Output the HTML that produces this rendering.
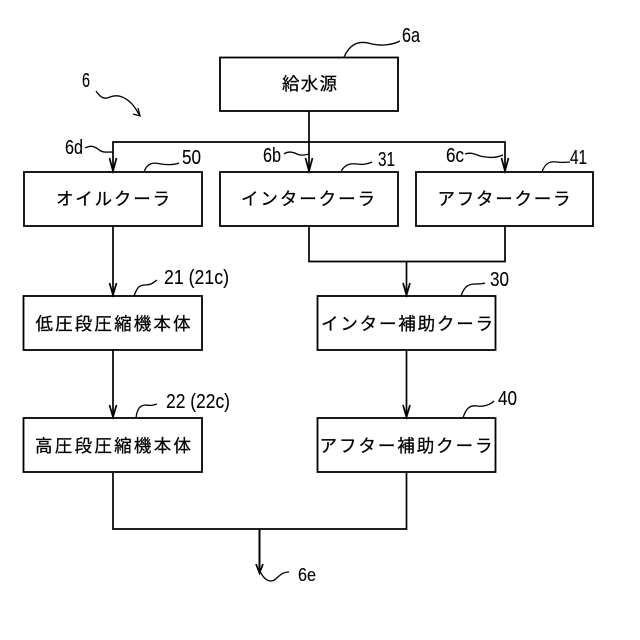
<!DOCTYPE html>
<html><head><meta charset="utf-8"><style>html,body{margin:0;padding:0;background:#fff}svg{display:block}
.j{font-family:"Liberation Sans","Noto Sans CJK JP",sans-serif;font-size:17.500px;font-weight:400;fill:#000;stroke:#000;stroke-width:.25px}
.n{font-family:"Liberation Sans",sans-serif;font-size:20px;fill:#000;stroke:#000;stroke-width:.1px}
</style></head><body>
<svg width="640" height="640" viewBox="0 0 640 640" xmlns="http://www.w3.org/2000/svg">
<g fill="#fff" stroke="#000" stroke-width="1.8">
<rect x="220" y="57.5" width="178" height="53.5"/>
<rect x="24" y="172" width="178" height="54"/>
<rect x="220" y="172" width="178" height="54"/>
<rect x="416" y="172" width="177" height="54"/>
<rect x="23.500" y="296" width="178.500" height="54"/>
<rect x="23.500" y="418" width="178.500" height="54"/>
<rect x="317.500" y="296" width="178" height="54"/>
<rect x="317.500" y="418" width="178" height="54"/>
</g>
<g fill="none" stroke="#000" stroke-width="1.7">
<path d="M309 111V172M113 172V142H505V172"/>
<path d="M309 226V261.500H505V226M406.500 261.500V296"/>
<path d="M113 226V296M113 350V418M406.500 350V418"/>
<path d="M113 472V529H406.500V472"/>
<path d="M259.500 529V573" stroke-width="2"/>
<path d="M109.500 158L113 171L116.500 158M305.500 158L309 171L312.500 158M501.500 158L505 171L508.500 158M403 283L406.500 295L410 283M109.500 283L113 295L116.500 283M109.500 405L113 417L116.500 405M403 405L406.500 417L410 405M256 564L259.500 573L263 564"/>
</g>
<g fill="none" stroke="#000" stroke-width="1.300">
<path d="M96 91C100 97 104 100 110 97C118 94 124 97 130 102C134 105 137 111 140 116"/>
<path d="M133 114L140 116L138 108"/>
<path d="M344 57C350 44 358 41 368 43C378 46 390 46 400 41"/>
<path d="M85 148C90 145 94 146 98 149C102 153 106 152 113 152"/>
<path d="M144 172C147 163 153 162 161 164C168 165 174 165 179 163"/>
<path d="M284 154C288 151 293 152 297 154C301 156 305 155 309 154"/>
<path d="M341 172C344 165 350 163 357 164C362 165 368 164 372 162"/>
<path d="M465 154C470 152 475 154 480 156C488 158 496 158 503 155"/>
<path d="M542 172C545 163 550 161 557 162C562 163 566 162 570 162"/>
<path d="M134 296C137 288 139 285 145 285C151 285 153 283 157 280"/>
<path d="M136 418C137 409 140 405 146 405C151 406 153 405 157 404"/>
<path d="M461 296C464 287 468 284 475 284C479 284 482 284 485 283"/>
<path d="M463 418C466 408 470 405 477 406C483 407 490 405 494 401"/>
<path d="M259 570C263 577 266 581 271 581C277 581 279 572 289 572"/>
</g>
<g text-anchor="middle">
<text x="309.500" y="90" textLength="55" lengthAdjust="spacing" class="j">給水源</text>
<text x="113" y="205" textLength="114" lengthAdjust="spacing" class="j">オイルクーラ</text>
<text x="308" y="205" textLength="134" lengthAdjust="spacing" class="j">インタークーラ</text>
<text x="504" y="205" textLength="133" lengthAdjust="spacing" class="j">アフタークーラ</text>
<text x="113" y="330" textLength="155" lengthAdjust="spacing" class="j">低圧段圧縮機本体</text>
<text x="113" y="452" textLength="156" lengthAdjust="spacing" class="j">高圧段圧縮機本体</text>
<text x="407" y="330" textLength="172" lengthAdjust="spacing" class="j">インター補助クーラ</text>
<text x="406" y="452" textLength="173" lengthAdjust="spacing" class="j">アフター補助クーラ</text>
</g>
<g>
<text x="82" y="87" textLength="8" lengthAdjust="spacingAndGlyphs" class="n">6</text>
<text x="402" y="42" textLength="18" lengthAdjust="spacingAndGlyphs" class="n">6a</text>
<text x="65" y="154" textLength="18" lengthAdjust="spacingAndGlyphs" class="n">6d</text>
<text x="263" y="162" textLength="18" lengthAdjust="spacingAndGlyphs" class="n">6b</text>
<text x="446" y="162" textLength="18" lengthAdjust="spacingAndGlyphs" class="n">6c</text>
<text x="182" y="164" textLength="19" lengthAdjust="spacingAndGlyphs" class="n">50</text>
<text x="378" y="166" textLength="17" lengthAdjust="spacingAndGlyphs" class="n">31</text>
<text x="570" y="164" textLength="17" lengthAdjust="spacingAndGlyphs" class="n">41</text>
<text x="164" y="284" textLength="65" lengthAdjust="spacingAndGlyphs" class="n">21 (21c)</text>
<text x="166" y="408" textLength="64" lengthAdjust="spacingAndGlyphs" class="n">22 (22c)</text>
<text x="490" y="286" textLength="19" lengthAdjust="spacingAndGlyphs" class="n">30</text>
<text x="498" y="405" textLength="19" lengthAdjust="spacingAndGlyphs" class="n">40</text>
<text x="298" y="581" textLength="18" lengthAdjust="spacingAndGlyphs" class="n" style="font-size:18px">6e</text>
</g>
</svg>
</body></html>
